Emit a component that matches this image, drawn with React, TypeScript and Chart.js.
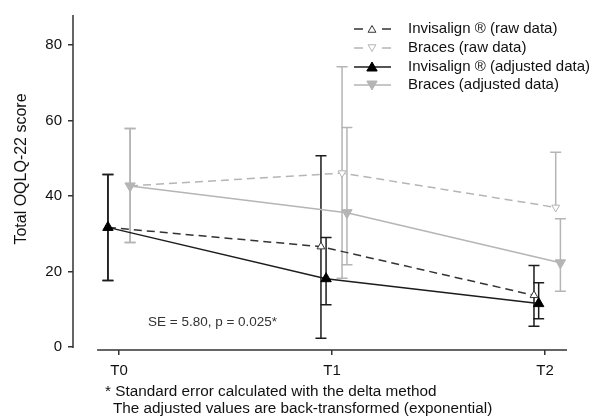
import React, { useEffect, useRef } from 'react';
import { Chart, registerables } from 'chart.js';

Chart.register(...registerables);

const CATEGORIES = ['T0', 'T1', 'T2'];
const Y_TICKS = [0, 20, 40, 60, 80];

const INV_RAW = [31.7, 26.6, 13.7];
const INV_RAW_LOW = [17.6, 2.3, 5.5];
const INV_RAW_HIGH = [45.7, 50.7, 21.6];

const BRA_RAW = [42.7, 46.1, 37.0];
const BRA_RAW_LOW = [27.7, 18.2, 37.0];
const BRA_RAW_HIGH = [57.9, 74.3, 51.6];

const INV_ADJ = [31.7, 18.1, 11.5];
const INV_ADJ_LOW = [17.6, 11.2, 7.5];
const INV_ADJ_HIGH = [45.7, 29.0, 17.0];

const BRA_ADJ = [42.7, 35.6, 22.3];
const BRA_ADJ_LOW = [27.7, 21.8, 14.8];
const BRA_ADJ_HIGH = [57.9, 58.2, 34.0];

const LABELS = [
  'Invisalign \u00AE (raw data)',
  'Braces (raw data)',
  'Invisalign \u00AE (adjusted data)',
  'Braces (adjusted data)',
];
const Y_TITLE = 'Total OQLQ-22 score';
const NOTE_SE = 'SE = 5.80, p = 0.025*';
const FOOTNOTES = [
  '* Standard error calculated with the delta method',
  'The adjusted values are back-transformed (exponential)',
];

// horizontal dodge of each series around its time point (layout only)
const DODGE_INV_RAW = [-0.052, -0.052, -0.052];
const DODGE_INV_ADJ = [-0.052, -0.028, -0.03];
const DODGE_BRA_RAW = [0.052, 0.047, 0.05];
const DODGE_BRA_ADJ = [0.052, 0.07, 0.072];

const FONT = "'Liberation Sans', Arial, Helvetica, sans-serif";
const BLACK = '#1c1c1c';
const DARK = '#333333';
const GREY = '#b5b5b5';

const pts = (vals: number[], dodge: number[]) =>
  vals.map((v, i) => ({ x: i + dodge[i], y: v }));

function drawTri(ctx: CanvasRenderingContext2D, x: number, y: number, r: number, down: boolean, fill: string, stroke: string) {
  ctx.save();
  ctx.beginPath();
  let rad = down ? Math.PI : 0;
  for (let k = 0; k < 3; k++) {
    const px = x + Math.sin(rad) * r;
    const py = y - Math.cos(rad) * r;
    if (k === 0) ctx.moveTo(px, py);
    else ctx.lineTo(px, py);
    rad += (2 * Math.PI) / 3;
  }
  ctx.closePath();
  ctx.fillStyle = fill;
  ctx.fill();
  ctx.lineWidth = 1;
  ctx.strokeStyle = stroke;
  ctx.stroke();
  ctx.restore();
}

const overlayPlugin = {
  id: 'overlay',
  beforeDatasetsDraw(chart: any) {
    const ctx = chart.ctx as CanvasRenderingContext2D;
    const y = chart.scales.y;
    const dsIdx = chart.data.datasets.map((_: any, i: number) => i);
    dsIdx.sort((a: number, b: number) => (chart.data.datasets[b].order || 0) - (chart.data.datasets[a].order || 0));
    dsIdx.forEach((di: number) => {
      const ds = chart.data.datasets[di];
      const meta = chart.getDatasetMeta(di);
      ctx.save();
      ctx.strokeStyle = ds.errColor;
      ctx.lineWidth = 1.5;
      meta.data.forEach((pt: any, i: number) => {
        const x = pt.x;
        const yl = y.getPixelForValue(ds.errLow[i]);
        const yh = y.getPixelForValue(ds.errHigh[i]);
        const cw = 5.5;
        ctx.beginPath();
        ctx.moveTo(x, yl);
        ctx.lineTo(x, yh);
        ctx.moveTo(x - cw, yh);
        ctx.lineTo(x + cw, yh);
        if (ds.errLow[i] < ds.data[i].y) {
          ctx.moveTo(x - cw, yl);
          ctx.lineTo(x + cw, yl);
        }
        ctx.stroke();
      });
      ctx.restore();
    });
  },
  afterDraw(chart: any) {
    const ctx = chart.ctx as CanvasRenderingContext2D;
    const xs = chart.scales.x;
    const ys = chart.scales.y;
    const area = chart.chartArea;
    ctx.save();
    // axis lines (offset style)
    ctx.strokeStyle = DARK;
    ctx.lineWidth = 1.5;
    ctx.beginPath();
    ctx.moveTo(area.left, area.top);
    ctx.lineTo(area.left, ys.getPixelForValue(-0.3));
    ctx.moveTo(xs.getPixelForValue(-0.103), area.bottom);
    ctx.lineTo(area.right, area.bottom);
    ctx.stroke();

    // y title
    ctx.save();
    ctx.translate(22, 169);
    ctx.rotate(-Math.PI / 2);
    ctx.font = `16px ${FONT}`;
    ctx.fillStyle = '#111';
    ctx.textAlign = 'center';
    ctx.textBaseline = 'middle';
    ctx.fillText(Y_TITLE, 0, 0);
    ctx.restore();

    // SE note
    ctx.font = `13.5px ${FONT}`;
    ctx.fillStyle = '#333';
    ctx.textAlign = 'left';
    ctx.textBaseline = 'middle';
    ctx.fillText(NOTE_SE, 148, 322);

    // footnotes
    ctx.font = `15.3px ${FONT}`;
    ctx.fillStyle = '#111';
    ctx.fillText(FOOTNOTES[0], 105, 392);
    ctx.fillText(FOOTNOTES[1], 113, 409);

    // legend
    const rows = [29, 48, 67, 85];
    const legendOrder = [0, 1, 2, 3];
    legendOrder.forEach((di, r) => {
      const ds = chart.data.datasets[di];
      const yy = rows[r];
      const x0 = 354, x1 = 391, xm = 372;
      ctx.save();
      ctx.strokeStyle = ds.borderColor;
      ctx.lineWidth = ds.borderWidth;
      ctx.beginPath();
      if (ds.borderDash && ds.borderDash.length) {
        ctx.moveTo(x0, yy);
        ctx.lineTo(x0 + 9, yy);
        ctx.moveTo(x1 - 9, yy);
        ctx.lineTo(x1, yy);
      } else {
        ctx.moveTo(x0, yy);
        ctx.lineTo(x1, yy);
      }
      ctx.stroke();
      ctx.restore();
      drawTri(ctx, xm, yy + (ds.pointRotation ? -1 : 1), ds.pointRadius, !!ds.pointRotation, ds.pointBackgroundColor, ds.pointBorderColor);
      ctx.font = `15px ${FONT}`;
      ctx.fillStyle = '#111';
      ctx.textAlign = 'left';
      ctx.textBaseline = 'middle';
      ctx.fillText(ds.label, 408, yy);
    });
    ctx.restore();
  },
};

export default function App() {
  const ref = useRef<HTMLCanvasElement>(null);
  useEffect(() => {
    if (!ref.current) return;
    Chart.defaults.font.family = FONT;
    const datasets: any[] = [
      {
        label: LABELS[0],
        data: pts(INV_RAW, DODGE_INV_RAW),
        errLow: INV_RAW_LOW,
        errHigh: INV_RAW_HIGH,
        errColor: BLACK,
        borderColor: DARK,
        borderWidth: 1.5,
        borderDash: [8, 5],
        pointStyle: 'triangle',
        pointRadius: 4.5,
        pointRotation: 0,
        pointBackgroundColor: '#ffffff',
        pointBorderColor: DARK,
        pointBorderWidth: 1,
        order: 1,
      },
      {
        label: LABELS[1],
        data: pts(BRA_RAW, DODGE_BRA_RAW),
        errLow: BRA_RAW_LOW,
        errHigh: BRA_RAW_HIGH,
        errColor: GREY,
        borderColor: GREY,
        borderWidth: 1.5,
        borderDash: [8, 5],
        pointStyle: 'triangle',
        pointRadius: 4.5,
        pointRotation: 180,
        pointBackgroundColor: '#ffffff',
        pointBorderColor: GREY,
        pointBorderWidth: 1,
        order: 3,
      },
      {
        label: LABELS[2],
        data: pts(INV_ADJ, DODGE_INV_ADJ),
        errLow: INV_ADJ_LOW,
        errHigh: INV_ADJ_HIGH,
        errColor: BLACK,
        borderColor: BLACK,
        borderWidth: 1.5,
        borderDash: [],
        pointStyle: 'triangle',
        pointRadius: 6,
        pointRotation: 0,
        pointBackgroundColor: '#000000',
        pointBorderColor: '#000000',
        pointBorderWidth: 1,
        order: 0,
      },
      {
        label: LABELS[3],
        data: pts(BRA_ADJ, DODGE_BRA_ADJ),
        errLow: BRA_ADJ_LOW,
        errHigh: BRA_ADJ_HIGH,
        errColor: GREY,
        borderColor: GREY,
        borderWidth: 1.5,
        borderDash: [],
        pointStyle: 'triangle',
        pointRadius: 6,
        pointRotation: 180,
        pointBackgroundColor: GREY,
        pointBorderColor: GREY,
        pointBorderWidth: 1,
        order: 2,
      },
    ];
    const chart = new Chart(ref.current, {
      type: 'line',
      data: { datasets },
      options: {
        animation: false,
        responsive: false,
        layout: { padding: { left: 0, top: 13, right: 26, bottom: 0 } },
        plugins: { legend: { display: false }, tooltip: { enabled: false } },
        elements: { line: { tension: 0, fill: false } },
        scales: {
          x: {
            type: 'linear',
            min: -0.216,
            max: 2.103,
            afterBuildTicks: (s: any) => {
              s.ticks = CATEGORIES.map((_, i) => ({ value: i }));
            },
            afterFit: (s: any) => {
              s.height = 66;
            },
            ticks: {
              callback: (v: any) => CATEGORIES[Math.round(Number(v))] ?? '',
              font: { size: 15, family: FONT },
              color: '#111',
              padding: 7,
              maxRotation: 0,
            },
            grid: {
              drawOnChartArea: false,
              drawTicks: true,
              tickLength: 5,
              color: DARK,
              lineWidth: 1.5,
            },
            border: { display: false },
          },
          y: {
            type: 'linear',
            min: -0.8,
            max: 88,
            afterBuildTicks: (s: any) => {
              s.ticks = Y_TICKS.map((v) => ({ value: v }));
            },
            afterFit: (s: any) => {
              s.width = 73;
            },
            ticks: {
              font: { size: 15, family: FONT },
              color: '#111',
              padding: 6,
            },
            grid: {
              drawOnChartArea: false,
              drawTicks: true,
              tickLength: 5,
              color: DARK,
              lineWidth: 1.5,
            },
            border: { display: false },
          },
        },
      },
      plugins: [overlayPlugin],
    } as any);
    return () => chart.destroy();
  }, []);
  return (
    <div style={{ position: 'absolute', left: 0, top: 0, width: 593, height: 416, background: '#fff' }}>
      <canvas ref={ref} width={593} height={416} style={{ display: 'block' }} />
    </div>
  );
}
